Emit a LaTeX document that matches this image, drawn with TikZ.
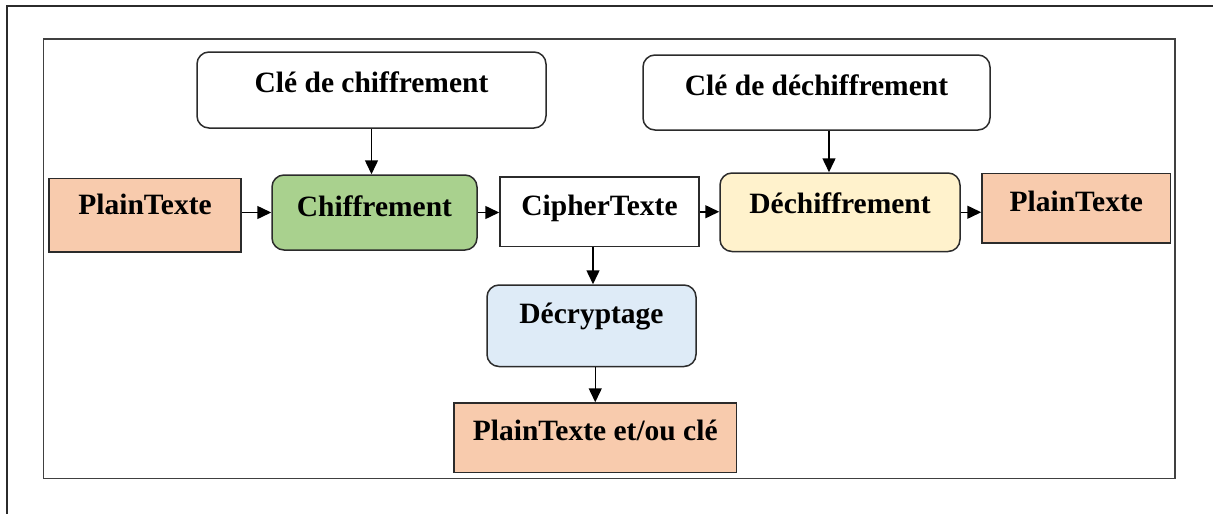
\documentclass[tikz,border=0pt]{standalone}
\usepackage{fontspec}
\setmainfont{Liberation Serif}
\usetikzlibrary{arrows.meta}
\definecolor{peach}{HTML}{F8CBAD}
\definecolor{leaf}{HTML}{A9D18E}
\definecolor{cream}{HTML}{FFF2CC}
\definecolor{sky}{HTML}{DEEBF7}
\definecolor{edge}{HTML}{2B2B2B}
\begin{document}
\begin{tikzpicture}[x=1pt,y=-1pt,
  font=\fontsize{29.5}{32}\selectfont\bfseries,
  box/.style={draw=edge,line width=1.5pt,inner sep=0pt,minimum height=0pt,align=center},
  roundbox/.style={box,rounded corners=12pt},
  arr/.style={draw=black,line width=1.5pt,-{Triangle[length=14pt,width=13pt]}}]
  \useasboundingbox (0,0) rectangle (1213,514);
  % page frame and panel
  \draw[edge,line width=1.6pt] (7,514) -- (7,6) -- (1213,6);
  \draw[edge!90,line width=1.6pt] (43.5,39) rectangle (1175,478.5);

  % keys
  \node[roundbox,fill=white,minimum width=349pt,text height=40pt,text depth=36pt]
    (keyA) at (371.5,90) {Clé de chiffrement};
  \node[roundbox,fill=white,minimum width=347pt,text height=40pt,text depth=35pt]
    (keyB) at (816.5,92.5) {Clé de déchiffrement};

  % main chain
  \node[box,fill=peach,minimum width=192pt,text height=35.5pt,text depth=38pt]
    (ptA) at (145,215.25) {PlainTexte};
  \node[roundbox,fill=leaf,minimum width=205pt,text height=41pt,text depth=34pt]
    (enc) at (374.5,212.5) {Chiffrement};
  \node[box,fill=white,minimum width=199pt,text height=38pt,text depth=31.5pt]
    (ct) at (599.5,211.75) {CipherTexte};
  \node[roundbox,fill=cream,minimum width=240pt,text height=40pt,text depth=38.5pt]
    (dec) at (840,212.25) {Déchiffrement};
  \node[box,fill=peach,minimum width=188.5pt,text height=37.5pt,text depth=32pt]
    (ptB) at (1076.25,208.25) {PlainTexte};

  % cryptanalysis branch
  \node[roundbox,fill=sky,minimum width=209pt,text height=38pt,text depth=43.5pt]
    (cry) at (591.5,325.75) {Décryptage};
  \node[box,fill=peach,minimum width=282.5pt,text height=37pt,text depth=32.5pt]
    (ptC) at (595.25,437.75) {PlainTexte et/ou clé};

  % connectors
  \draw[arr] (keyA.south) -- (keyA.south |- enc.north);
  \draw[arr] ([xshift=12.5pt]keyB.south) -- ([xshift=12.5pt]keyB.south |- dec.north);
  \draw[arr] (ptA.east |- enc.west) -- (enc.west);
  \draw[arr] (enc.east) -- (enc.east -| ct.west);
  \draw[arr] (ct.east) -- (ct.east -| dec.west);
  \draw[arr] (dec.east) -- (dec.east -| ptB.west);
  \draw[arr] ([xshift=1.5pt]cry.north |- ct.south) -- ([xshift=1.5pt]cry.north);
  \draw[arr] (cry.south -| ptC.north) -- (ptC.north);
\end{tikzpicture}
\end{document}
